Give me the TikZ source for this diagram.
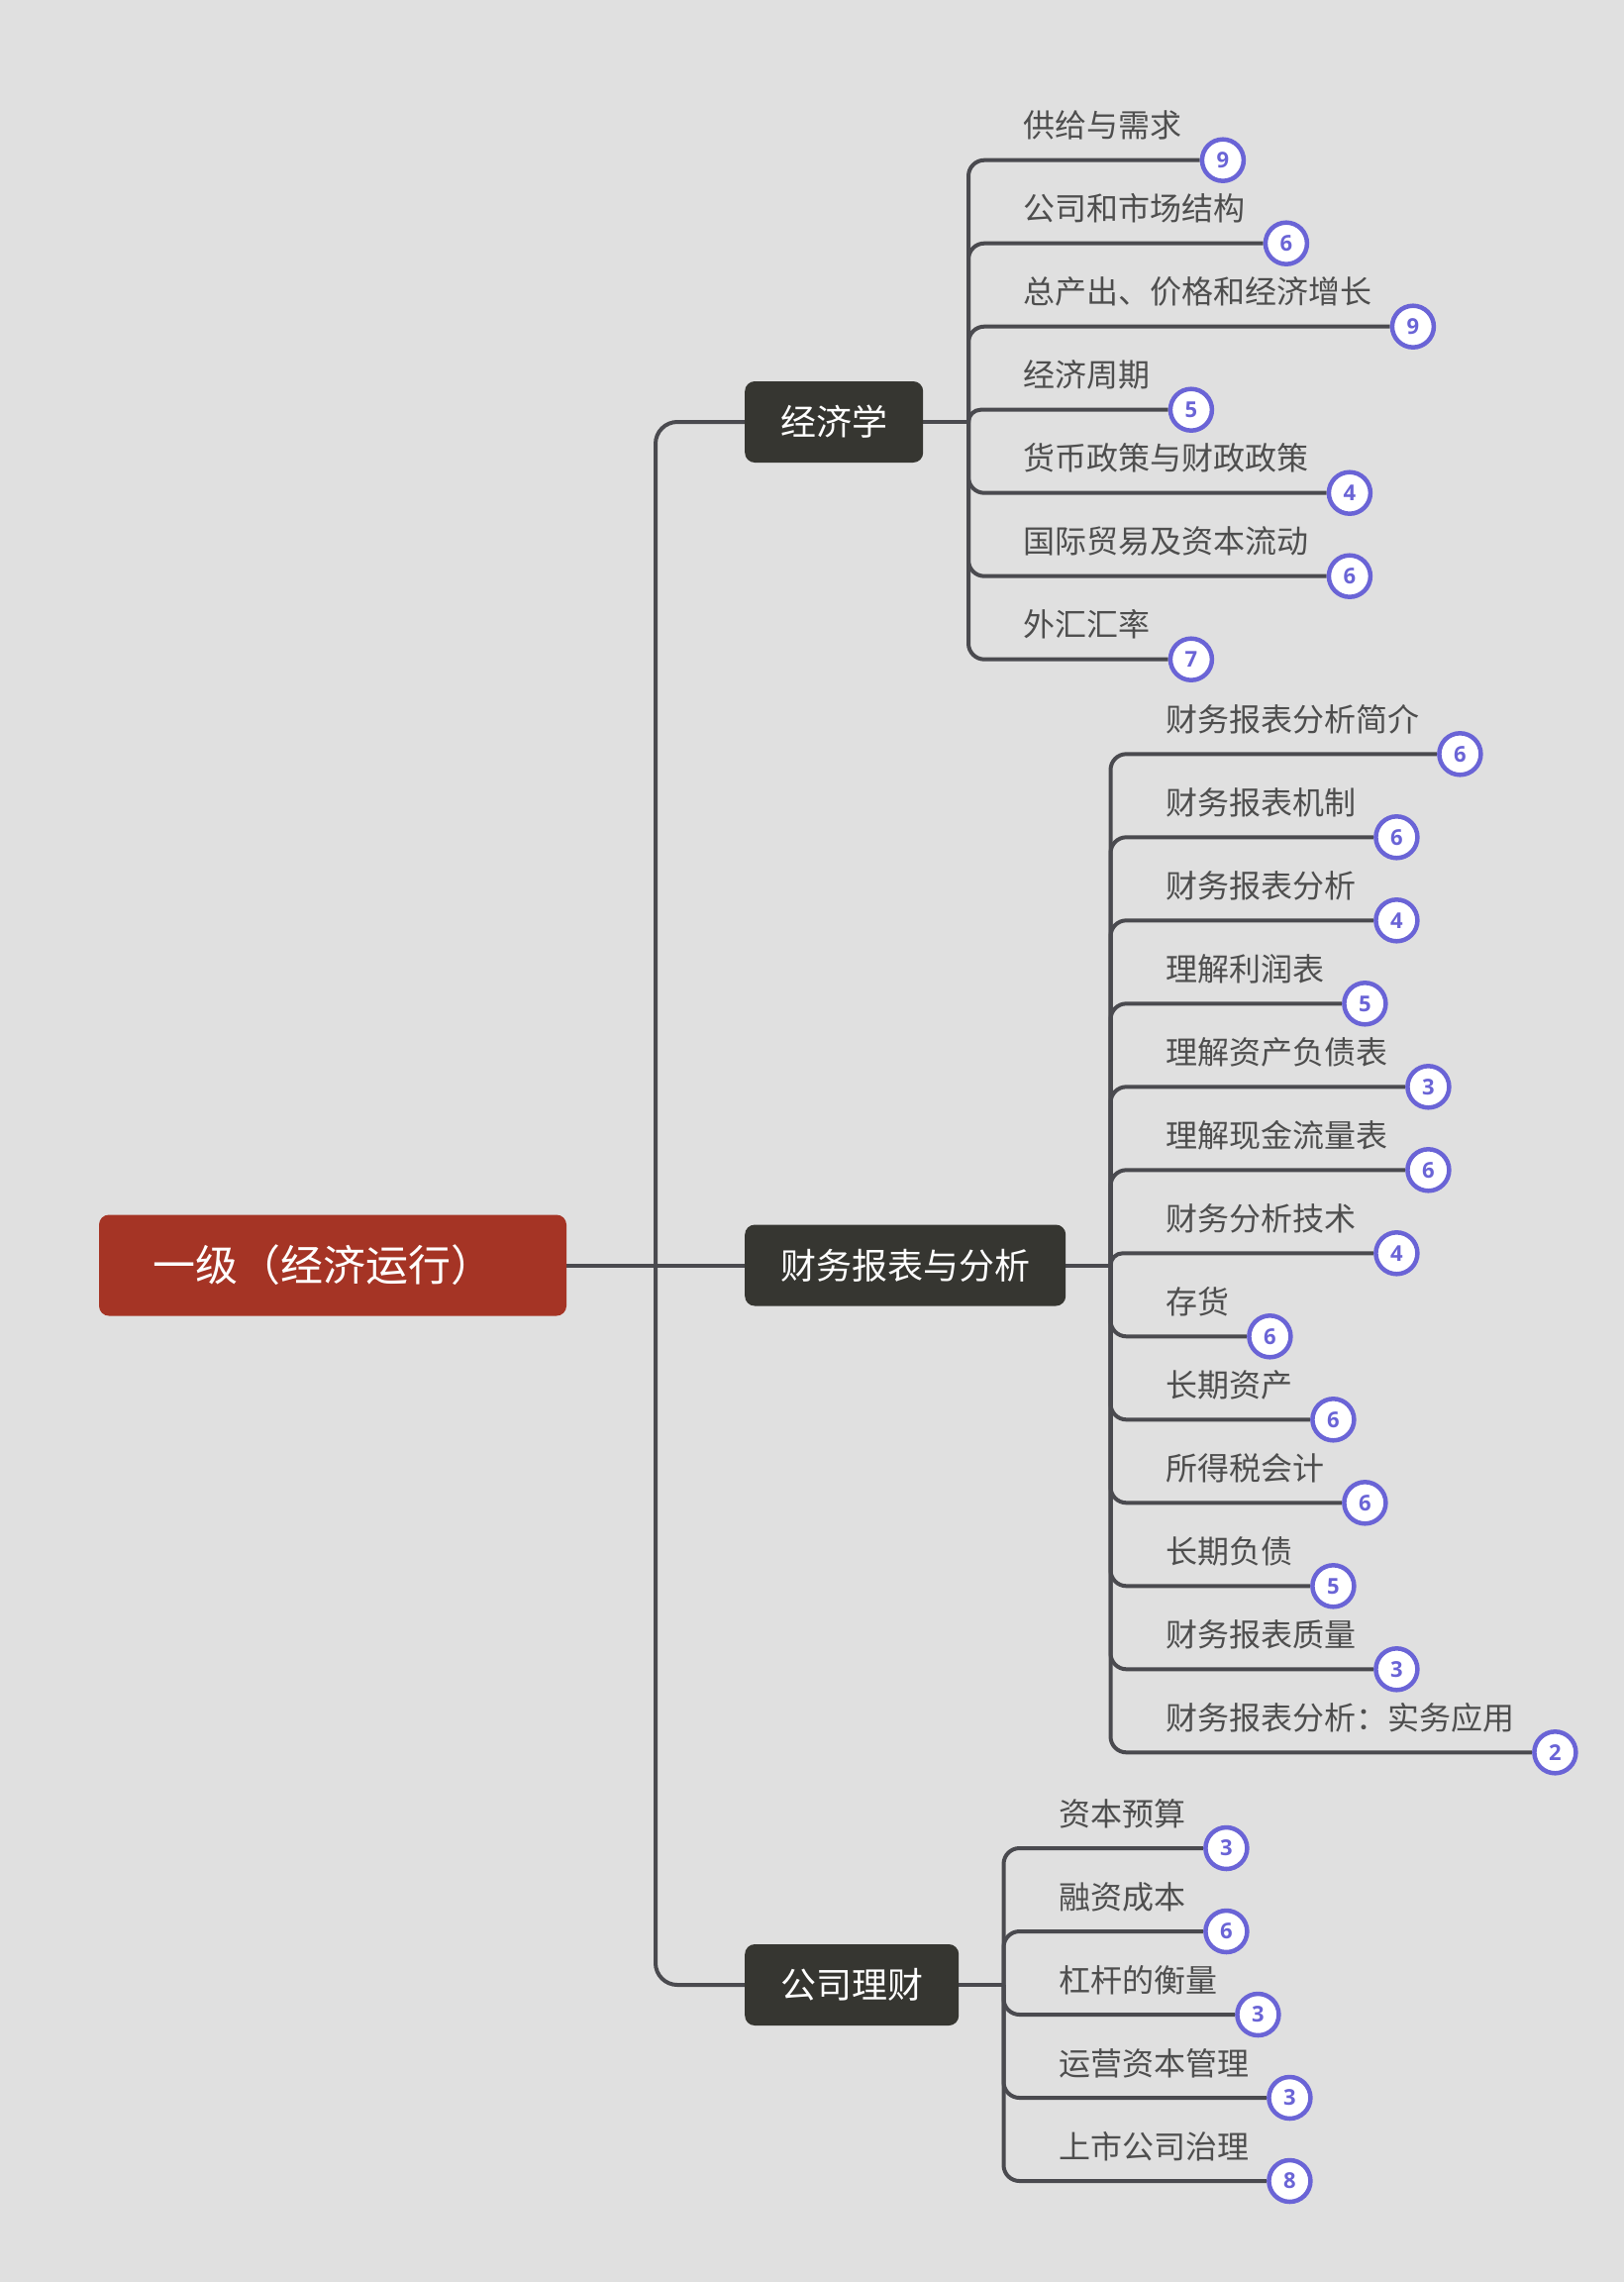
\documentclass[tikz,border=0pt]{standalone}
\usepackage{fontspec}
\setmainfont{Open Sans}
\newfontfamily\cjk{Noto Sans CJK SC}
\newfontfamily\numfont{Open Sans}
\usetikzlibrary{calc}
\definecolor{bgc}{HTML}{E0E0E0}
\definecolor{lnc}{HTML}{4A4A4F}
\definecolor{rootc}{HTML}{A53425}
\definecolor{mainc}{HTML}{363631}
\definecolor{txtc}{HTML}{4E4E4E}
\definecolor{badgec}{HTML}{6A64D6}
\pgfdeclarelayer{bglayer}
\pgfsetlayers{bglayer,main}
\tikzset{
  conn/.style={draw=lnc, line width=4pt},
  rootbox/.style={fill=rootc, rounded corners=10pt, minimum width=472pt, minimum height=102pt, inner sep=0pt,
    text=white, font=\cjk\fontsize{43}{43}\selectfont},
  mainbox/.style={fill=mainc, rounded corners=10pt, minimum height=82pt, inner xsep=36pt, inner ysep=0pt,
    text=white, font=\cjk\fontsize{36}{36}\selectfont, anchor=west},
  leaf/.style={inner sep=0pt, anchor=base west, text=txtc, font=\cjk\fontsize{32}{32}\selectfont},
  badge/.style={circle, draw=badgec, line width=4.5pt, fill=white, minimum size=42pt, inner sep=0pt,
    text=badgec, font=\numfont\bfseries\fontsize{22}{22}\selectfont},
}
\newcommand\mkgroup[5]{%
  \foreach \lab/\num [count=\k from 0] in {#5} {
    \pgfmathsetmacro\yy{#4+84*\k}
    \node[leaf] (#1t\k) at (#2+55.5, \yy-23) {\lab};
    \node[badge] (#1b\k) at ($(#1t\k.base east)+(41,23)$) {\num};
    \pgfmathsetmacro\rr{min(16,abs(\yy-#3))}
    \begin{pgfonlayer}{bglayer}
      \draw[conn, rounded corners=\rr] (#1j) |- (#1b\k.west);
    \end{pgfonlayer}
  }
}
\begin{document}
\begin{tikzpicture}[x=1pt, y=-1pt]
\begin{pgfonlayer}{bglayer}
  \fill[bgc] (0,0) rectangle (1640,2304);
\end{pgfonlayer}
\useasboundingbox (0,0) rectangle (1640,2304);

\node[rootbox] (root) at (336,1277.5) {一级（经济运行）\hspace*{20pt}};
\node[mainbox] (econ) at (752,426) {经济学};
\node[mainbox] (fsa) at (752,1277.5) {财务报表与分析};
\node[mainbox] (corp) at (752,2004) {公司理财};

\coordinate (tj) at (662,1277.5);
\coordinate (ej) at (978,426);
\coordinate (fj) at (1121.5,1277.5);
\coordinate (cj) at (1013.5,2004);

\begin{pgfonlayer}{bglayer}
  \draw[conn] (root.east) -- (fsa.west);
  \draw[conn, rounded corners=22] (tj) |- (econ.west);
  \draw[conn, rounded corners=22] (tj) |- (corp.west);
  \draw[conn] (econ.east) -- (ej);
  \draw[conn] (fsa.east) -- (fj);
  \draw[conn] (corp.east) -- (cj);
\end{pgfonlayer}

\mkgroup{e}{978}{426}{161.7}{供给与需求/9, 公司和市场结构/6, 总产出、价格和经济增长/9, 经济周期/5, 货币政策与财政政策/4, 国际贸易及资本流动/6, 外汇汇率/7}
\mkgroup{f}{1121.5}{1277.5}{761.3}{财务报表分析简介/6, 财务报表机制/6, 财务报表分析/4, 理解利润表/5, 理解资产负债表/3, 理解现金流量表/6, 财务分析技术/4, 存货/6, 长期资产/6, 所得税会计/6, 长期负债/5, 财务报表质量/3, 财务报表分析：实务应用/2}
\mkgroup{c}{1013.5}{2004}{1866}{资本预算/3, 融资成本/6, 杠杆的衡量/3, 运营资本管理/3, 上市公司治理/8}
\end{tikzpicture}
\end{document}
